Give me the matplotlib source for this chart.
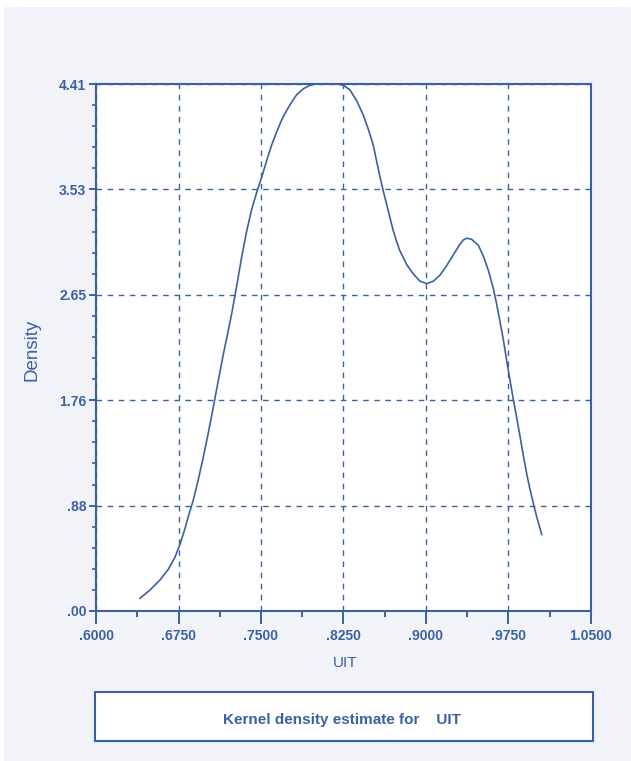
import numpy as np
import matplotlib
matplotlib.use("Agg")
import matplotlib.pyplot as plt
from matplotlib.patches import Rectangle
from matplotlib.ticker import AutoMinorLocator

# kernel density curve
uit = [0.640, 0.6491, 0.6582, 0.6658, 0.6718, 0.6764, 0.6809, 0.6839, 0.6885, 0.693,
       0.6976, 0.7021, 0.7067, 0.7112, 0.7158, 0.7203, 0.7234, 0.7279, 0.7324, 0.737,
       0.7415, 0.746, 0.7506, 0.7552, 0.7597, 0.7643, 0.7688, 0.7734, 0.778, 0.7824,
       0.7885, 0.7945, 0.8006, 0.807, 0.813, 0.819, 0.8248, 0.8309, 0.837, 0.843,
       0.8476, 0.852, 0.855, 0.858, 0.861, 0.8643, 0.867, 0.870, 0.873, 0.876,
       0.8824, 0.8885, 0.8945, 0.9006, 0.9067, 0.9127, 0.9188, 0.9248, 0.9309, 0.934,
       0.937, 0.9415, 0.9476, 0.9521, 0.9567, 0.9612, 0.9642, 0.9673, 0.9703, 0.9733,
       0.9764, 0.9794, 0.9824, 0.9855, 0.9885, 0.9915, 0.9945, 0.9976, 1.0006, 1.0052]
density = [0.106, 0.176, 0.26, 0.35, 0.45, 0.56, 0.69, 0.79, 0.93, 1.10,
           1.29, 1.49, 1.71, 1.93, 2.15, 2.35, 2.49, 2.72, 2.96, 3.18,
           3.36, 3.50, 3.63, 3.77, 3.90, 4.01, 4.11, 4.19, 4.26, 4.32,
           4.37, 4.40, 4.41, 4.41, 4.41, 4.41, 4.40, 4.36, 4.27, 4.15,
           4.03, 3.90, 3.77, 3.64, 3.52, 3.40, 3.30, 3.19, 3.10, 3.02,
           2.90, 2.82, 2.76, 2.74, 2.76, 2.81, 2.89, 2.98, 3.07, 3.105,
           3.12, 3.11, 3.06, 2.97, 2.85, 2.70, 2.57, 2.42, 2.27, 2.10,
           1.93, 1.77, 1.62, 1.46, 1.30, 1.15, 1.02, 0.90, 0.79, 0.64]

x_ticks = [0.600, 0.675, 0.750, 0.825, 0.900, 0.975, 1.050]
x_labels = [".6000", ".6750", ".7500", ".8250", ".9000", ".9750", "1.0500"]
y_ticks = [0.0, 0.882, 1.764, 2.646, 3.528, 4.41]
y_labels = [".00", ".88", "1.76", "2.65", "3.53", "4.41"]

blue = "#3a62a0"
bg = "#f1f3f8"

plt.rcParams['font.family'] = ['Liberation Sans', 'DejaVu Sans']

W, H = 631, 761
fig = plt.figure(figsize=(W / 100, H / 100), dpi=100)
fig.patch.set_facecolor("white")
# grey panel behind everything
fig.patches.append(Rectangle((4 / W, 0), 1, 1 - 7 / H, transform=fig.transFigure,
                             facecolor=bg, edgecolor="none", zorder=-2))

ax = fig.add_axes([96 / W, 1 - 611 / H, 495 / W, 527 / H])
ax.set_zorder(2)
ax.set_facecolor("white")
ax.plot(uit, density, color=blue, lw=1.2, zorder=3)

ax.set_xlim(0.6, 1.05)
ax.set_ylim(0, 4.41)
ax.set_xticks(x_ticks)
ax.set_xticklabels(x_labels)
ax.set_yticks(y_ticks)
ax.set_yticklabels(y_labels)
ax.xaxis.set_minor_locator(AutoMinorLocator(2))
ax.yaxis.set_minor_locator(AutoMinorLocator(5))

ax.grid(True, which="major", color=blue, ls=(0, (4, 4)), lw=1.0)
for s in ax.spines.values():
    s.set_color(blue)
    s.set_linewidth(1.5)

ax.tick_params(axis="x", which="major", length=9, width=1.4, color=blue,
               labelcolor=blue, labelsize=10, pad=4)
ax.tick_params(axis="x", which="minor", length=4.5, width=1.4, color=blue)
ax.tick_params(axis="y", which="major", length=5, width=1.4, color=blue,
               labelcolor=blue, labelsize=10, pad=2)
ax.tick_params(axis="y", which="minor", length=3, width=1.2, color=blue)
for lab in ax.get_xticklabels() + ax.get_yticklabels():
    lab.set_fontweight("bold")

fig.text(345 / W, 1 - 663 / H, "UIT", color=blue, fontsize=11,
         ha="center", va="center")
fig.text(32 / W, 1 - 350 / H, "Density", color=blue, fontsize=13.5,
         rotation=90, ha="center", va="center")

# legend box under the plot
fig.patches.append(Rectangle((95 / W, 1 - 741 / H), 498 / W, 49 / H,
                             transform=fig.transFigure, facecolor="white",
                             edgecolor=blue, lw=1.5, zorder=-1))
fig.text(342 / W, 1 - 720 / H, "Kernel density estimate for    UIT",
         color=blue, fontsize=11, fontweight="bold", ha="center", va="center")

fig.savefig("out.png", dpi=100, facecolor=fig.get_facecolor())
